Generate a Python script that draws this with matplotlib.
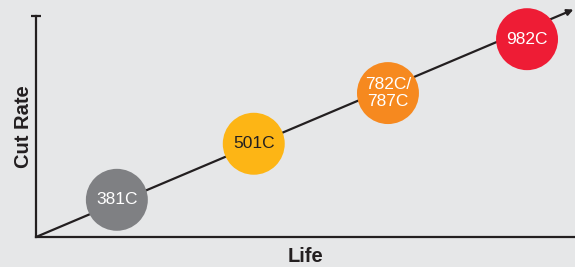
import matplotlib.pyplot as plt

# grade positions along the life / cut-rate trade-off
grades = ["381C", "501C", "782C/\n787C", "982C"]
life = [1.50, 4.04, 6.53, 9.11]
cut_rate = [0.69, 1.73, 2.67, 3.67]
colors = ["#7f8083", "#fdb515", "#f6891f", "#ee1c35"]
text_colors = ["white", "#231f20", "white", "white"]

BG = "#e6e7e8"
INK = "#231f20"

plt.rcParams["font.family"] = ["Liberation Sans", "DejaVu Sans"]

fig = plt.figure(figsize=(5.75, 2.67), dpi=100, facecolor=BG)
ax = fig.add_axes([36 / 575, 30 / 267, 539 / 575, 221 / 267])
ax.set_facecolor(BG)
ax.set_xlim(0, 10)
ax.set_ylim(0, 4.1)

for side in ("top", "right"):
    ax.spines[side].set_visible(False)
for side in ("left", "bottom"):
    ax.spines[side].set_color(INK)
    ax.spines[side].set_linewidth(1.6)
ax.set_xticks([])
ax.set_yticks([])
ax.plot([0], [4.1], marker="_", ms=7, mew=1.6, color=INK, clip_on=False)

# trend arrow
ax.annotate("", xy=(9.97, 4.22), xytext=(0, 0),
            arrowprops=dict(arrowstyle="-|>", color=INK, lw=1.6,
                            mutation_scale=9, shrinkA=0, shrinkB=0),
            annotation_clip=False)

ax.scatter(life, cut_rate, s=1990, c=colors, zorder=3, linewidths=0,
           clip_on=False)
for x, y, g, tc in zip(life, cut_rate, grades, text_colors):
    ax.text(x, y, g, ha="center", va="center", color=tc, fontsize=12.5,
            linespacing=1.15, zorder=4)

ax.set_xlabel("Life", fontsize=14.5, fontweight="bold", color=INK, labelpad=7)
ax.set_ylabel("Cut Rate", fontsize=14.5, fontweight="bold", color=INK,
              labelpad=2)

fig.savefig("out.png", dpi=100, facecolor=BG)
